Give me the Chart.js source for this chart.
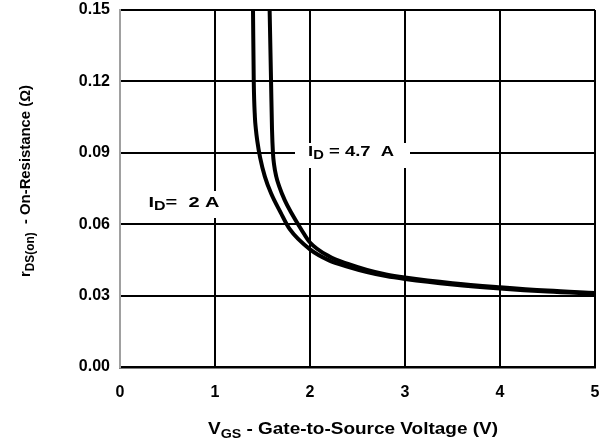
<!DOCTYPE html>
<html>
<head>
<meta charset="utf-8">
<title>rDS(on) vs VGS</title>
<script src="https://cdn.jsdelivr.net/npm/chart.js@4.4.1/dist/chart.umd.min.js"></script>
<style>
  html, body { margin: 0; padding: 0; background: #fff; }
  #wrap { width: 610px; height: 441px; }
</style>
</head>
<body>
<div id="wrap"><canvas id="chart" width="610" height="441"></canvas></div>
<script>
/* ─── Data ──────────────────────────────────────────────────────────────── */
const xTicks = [0, 1, 2, 3, 4, 5];
const yTicks = [0.00, 0.03, 0.06, 0.09, 0.12, 0.15];

// I_D = 2 A
const vgs2A = [1.400, 1.408, 1.420, 1.430, 1.445, 1.475, 1.525, 1.590, 1.690, 1.785, 2.00, 2.20, 2.40, 2.60, 2.80, 3.00, 3.50, 4.00, 4.50, 5.00];
const rds2A = [0.150, 0.120, 0.105, 0.100, 0.095, 0.088, 0.080, 0.073, 0.065, 0.058, 0.0494, 0.0448, 0.0421, 0.0399, 0.0382, 0.0370, 0.0347, 0.0330, 0.0317, 0.0308];

// I_D = 4.7 A
const vgs47A = [1.575, 1.590, 1.600, 1.610, 1.622, 1.645, 1.675, 1.735, 1.800, 1.905, 2.00, 2.20, 2.40, 2.60, 2.80, 3.00, 3.50, 4.00, 4.50, 5.00];
const rds47A = [0.150, 0.120, 0.100, 0.090, 0.085, 0.080, 0.076, 0.070, 0.065, 0.058, 0.0523, 0.0465, 0.0433, 0.0408, 0.0389, 0.0376, 0.0352, 0.0335, 0.0321, 0.0311];

const toPoints = (xs, ys) => xs.map((x, i) => ({ x, y: ys[i] }));

/* ─── Text helper: runs of normal / subscript text, fitted to a width ─── */
const FONT = "'Liberation Sans', Arial, sans-serif";

function drawRich(ctx, parts, cx, cy, size, fitWidth) {
  const subSize = Math.round(size * 0.78);
  let total = 0;
  parts.forEach(p => {
    ctx.font = `bold ${p.sub ? subSize : size}px ${FONT}`;
    p.w = ctx.measureText(p.t).width;
    total += p.w;
  });
  const sx = fitWidth ? fitWidth / total : 1;
  ctx.save();
  ctx.translate(cx, cy);
  ctx.scale(sx, 1);
  ctx.fillStyle = '#000';
  ctx.textBaseline = 'middle';
  ctx.textAlign = 'left';
  let x = -total / 2;
  parts.forEach(p => {
    ctx.font = `bold ${p.sub ? subSize : size}px ${FONT}`;
    ctx.fillText(p.t, x, p.sub ? size * 0.3 : 0);
    x += p.w;
  });
  ctx.restore();
}

/* ─── Plugin: axis titles + curve labels ────────────────────────────────── */
const labelsPlugin = {
  id: 'labels',
  afterDatasetsDraw(chart) {
    const { ctx, scales: { x, y } } = chart;

    // curve labels with white knock-out boxes
    const notes = [
      { vx: 0.30, vy: 0.0691, box: [140, 191, 86, 27], w: 71,
        parts: [{ t: 'I' }, { t: 'D', sub: true }, { t: '=  2 A' }] },
      { vx: 1.98, vy: 0.0905, box: [295, 143, 115, 25], w: 86,
        parts: [{ t: 'I' }, { t: 'D', sub: true }, { t: ' = 4.7  A' }] },
    ];
    notes.forEach(n => {
      ctx.fillStyle = '#fff';
      ctx.fillRect(...n.box);
      const left = x.getPixelForValue(n.vx);
      drawRich(ctx, n.parts, left + n.w / 2, y.getPixelForValue(n.vy), 15, n.w);
    });

    // x axis title
    drawRich(ctx, [{ t: 'V' }, { t: 'GS', sub: true }, { t: ' - Gate-to-Source Voltage (V)' }],
      353, 430, 16, 290);

    // y axis title (rotated)
    ctx.save();
    ctx.translate(26, 181);
    ctx.rotate(-Math.PI / 2);
    drawRich(ctx, [{ t: 'r' }, { t: 'DS(on)', sub: true }, { t: '  - On-Resistance (\u03A9)' }],
      0, 0, 15, 192);
    ctx.restore();
  },
};

/* ─── Chart ─────────────────────────────────────────────────────────────── */
new Chart(document.getElementById('chart'), {
  type: 'scatter',
  data: {
    datasets: [
      {
        label: 'I_D = 2 A',
        data: toPoints(vgs2A, rds2A),
        showLine: true,
        borderColor: '#000',
        borderWidth: 4,
        pointRadius: 0,
        cubicInterpolationMode: 'monotone',
      },
      {
        label: 'I_D = 4.7 A',
        data: toPoints(vgs47A, rds47A),
        showLine: true,
        borderColor: '#000',
        borderWidth: 4,
        pointRadius: 0,
        cubicInterpolationMode: 'monotone',
      },
    ],
  },
  options: {
    responsive: false,
    animation: false,
    events: [],
    layout: { padding: { top: 10, right: 15, left: 0, bottom: 0 } },
    plugins: { legend: { display: false }, tooltip: { enabled: false } },
    scales: {
      x: {
        type: 'linear',
        min: 0,
        max: 5,
        afterBuildTicks: s => { s.ticks = xTicks.map(v => ({ value: v })); },
        afterFit: s => { s.height = 74; s.paddingLeft = 0; s.paddingRight = 0; },
        ticks: {
          padding: 16,
          color: '#000',
          font: { family: FONT, size: 16, weight: 'bold' },
          callback: v => String(v),
        },
        grid: {
          drawTicks: false,
          lineWidth: 2,
          color: c => (c.tick && c.tick.value === 0 ? '#a0a0a0' : '#000'),
        },
        border: { color: '#000', width: 2.5 },
      },
      y: {
        type: 'linear',
        min: 0,
        max: 0.15,
        afterBuildTicks: s => { s.ticks = yTicks.map(v => ({ value: v })); },
        afterFit: s => { s.width = 120; s.paddingTop = 0; s.paddingBottom = 0; },
        ticks: {
          padding: 10,
          color: '#000',
          font: { family: FONT, size: 16, weight: 'bold' },
          callback: v => Number(v).toFixed(2),
        },
        grid: { drawTicks: false, lineWidth: 2, color: '#000' },
        border: { color: '#a0a0a0', width: 2 },
      },
    },
  },
  plugins: [labelsPlugin],
});
</script>
</body>
</html>
